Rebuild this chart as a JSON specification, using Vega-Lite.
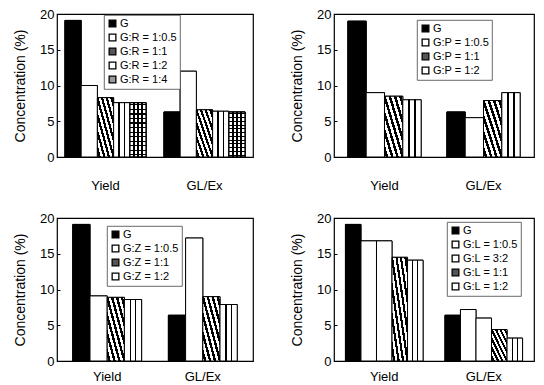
{
  "$schema": "https://vega.github.io/schema/vega-lite/v6.json",
  "padding": {"left": 12, "top": 7, "right": 0, "bottom": 0},
  "config": {
    "font": "Liberation Sans",
    "view": {"stroke": "black", "strokeWidth": 1.2},
    "axis": {"grid": false, "labelColor": "black", "titleColor": "black", "domainColor": "black", "tickColor": "black", "labelFont": "Liberation Sans", "titleFont": "Liberation Sans"},
    "axisY": {"labelFontSize": 13, "titleFontSize": 14, "titleFontWeight": "normal", "tickSize": -3, "labelPadding": 6, "titlePadding": 12, "domain": false, "labelOverlap": false},
    "axisX": {"labelFontSize": 13, "labelAngle": 0, "ticks": false, "domain": false, "title": null},
    "legend": {"orient": "none", "title": null, "symbolType": "square", "symbolSize": 45, "symbolStrokeWidth": 1.3, "symbolStrokeColor": "black", "labelFontSize": 11, "labelFont": "Liberation Sans", "labelColor": "black", "rowPadding": 1, "padding": 3, "strokeColor": "#444", "strokeWidth": 0.8, "fillColor": "white", "labelOffset": 2}
  },
  "datasets": {
    "p1": [
      {"metric": "Yield", "series": "G", "value": 19.1},
      {"metric": "Yield", "series": "G:R = 1:0.5", "value": 10.0},
      {"metric": "Yield", "series": "G:R = 1:1", "value": 8.3},
      {"metric": "Yield", "series": "G:R = 1:2", "value": 7.6},
      {"metric": "Yield", "series": "G:R = 1:4", "value": 7.6},
      {"metric": "GL/Ex", "series": "G", "value": 6.3},
      {"metric": "GL/Ex", "series": "G:R = 1:0.5", "value": 12.0},
      {"metric": "GL/Ex", "series": "G:R = 1:1", "value": 6.6},
      {"metric": "GL/Ex", "series": "G:R = 1:2", "value": 6.4},
      {"metric": "GL/Ex", "series": "G:R = 1:4", "value": 6.3}
    ],
    "p2": [
      {"metric": "Yield", "series": "G", "value": 19.0},
      {"metric": "Yield", "series": "G:P = 1:0.5", "value": 9.0},
      {"metric": "Yield", "series": "G:P = 1:1", "value": 8.5},
      {"metric": "Yield", "series": "G:P = 1:2", "value": 8.0},
      {"metric": "GL/Ex", "series": "G", "value": 6.3},
      {"metric": "GL/Ex", "series": "G:P = 1:0.5", "value": 5.5},
      {"metric": "GL/Ex", "series": "G:P = 1:1", "value": 7.9},
      {"metric": "GL/Ex", "series": "G:P = 1:2", "value": 9.0}
    ],
    "p3": [
      {"metric": "Yield", "series": "G", "value": 19.1},
      {"metric": "Yield", "series": "G:Z = 1:0.5", "value": 9.1},
      {"metric": "Yield", "series": "G:Z = 1:1", "value": 8.9},
      {"metric": "Yield", "series": "G:Z = 1:2", "value": 8.6},
      {"metric": "GL/Ex", "series": "G", "value": 6.4},
      {"metric": "GL/Ex", "series": "G:Z = 1:0.5", "value": 17.2},
      {"metric": "GL/Ex", "series": "G:Z = 1:1", "value": 9.0},
      {"metric": "GL/Ex", "series": "G:Z = 1:2", "value": 7.9}
    ],
    "p4": [
      {"metric": "Yield", "series": "G", "value": 19.1},
      {"metric": "Yield", "series": "G:L = 1:0.5", "value": 16.8},
      {"metric": "Yield", "series": "G:L = 3:2", "value": 16.8},
      {"metric": "Yield", "series": "G:L = 1:1", "value": 14.5},
      {"metric": "Yield", "series": "G:L = 1:2", "value": 14.1},
      {"metric": "GL/Ex", "series": "G", "value": 6.4},
      {"metric": "GL/Ex", "series": "G:L = 1:0.5", "value": 7.2},
      {"metric": "GL/Ex", "series": "G:L = 3:2", "value": 6.0},
      {"metric": "GL/Ex", "series": "G:L = 1:1", "value": 4.4},
      {"metric": "GL/Ex", "series": "G:L = 1:2", "value": 3.2}
    ]
  },
  "columns": 2,
  "spacing": {"column": 35, "row": 18},
  "resolve": {"scale": {"fill": "independent", "x": "independent", "xOffset": "independent"}, "legend": {"fill": "independent"}},
  "concat": [
    {
      "width": 196, "height": 143,
      "data": {"name": "p1"},
      "encoding": {
        "x": {"field": "metric", "type": "nominal", "scale": {"domain": ["Yield", "GL/Ex"], "paddingInner": 0.18, "paddingOuter": 0.08}, "axis": {"labelPadding": 22}},
        "xOffset": {"field": "series", "type": "nominal", "scale": {"domain": ["G", "G:R = 1:0.5", "G:R = 1:1", "G:R = 1:2", "G:R = 1:4"], "paddingInner": 0, "paddingOuter": 0}},
        "y": {"field": "value", "type": "quantitative", "scale": {"domain": [0, 20], "nice": false}, "axis": {"values": [0, 5, 10, 15, 20], "title": "Concentration (%)"}}
      },
      "layer": [
        {
          "mark": {"type": "bar", "stroke": "black", "strokeWidth": 1},
          "encoding": {
            "fill": {"field": "series", "type": "nominal",
              "scale": {"domain": ["G", "G:R = 1:0.5", "G:R = 1:1", "G:R = 1:2", "G:R = 1:4"], "range": ["black", "white", "#555", "white", "#999"]},
              "legend": {"legendX": 47, "legendY": 1}}
          }
        },
        {
          "mark": {"type": "bar", "stroke": "black", "strokeWidth": 1},
          "encoding": {
            "fill": {"condition": [
              {"test": "datum.series == 'G'", "value": "black"},
              {"test": "indexof(datum.series, '1:1') >= 0", "value": {"gradient": "linear", "x1": 0, "y1": 1, "x2": 1, "y2": 0, "stops": [{"offset": 0, "color": "white"}, {"offset": 0.036, "color": "white"}, {"offset": 0.036, "color": "black"}, {"offset": 0.106, "color": "black"}, {"offset": 0.106, "color": "white"}, {"offset": 0.179, "color": "white"}, {"offset": 0.179, "color": "black"}, {"offset": 0.249, "color": "black"}, {"offset": 0.249, "color": "white"}, {"offset": 0.322, "color": "white"}, {"offset": 0.322, "color": "black"}, {"offset": 0.392, "color": "black"}, {"offset": 0.392, "color": "white"}, {"offset": 0.465, "color": "white"}, {"offset": 0.465, "color": "black"}, {"offset": 0.535, "color": "black"}, {"offset": 0.535, "color": "white"}, {"offset": 0.608, "color": "white"}, {"offset": 0.608, "color": "black"}, {"offset": 0.678, "color": "black"}, {"offset": 0.678, "color": "white"}, {"offset": 0.751, "color": "white"}, {"offset": 0.751, "color": "black"}, {"offset": 0.821, "color": "black"}, {"offset": 0.821, "color": "white"}, {"offset": 0.894, "color": "white"}, {"offset": 0.894, "color": "black"}, {"offset": 0.964, "color": "black"}, {"offset": 0.964, "color": "white"}, {"offset": 1, "color": "white"}]}},
              {"test": "indexof(datum.series, '1:2') >= 0", "value": {"gradient": "linear", "x1": 0, "y1": 0, "x2": 1, "y2": 0, "stops": [{"offset": 0, "color": "white"}, {"offset": 0.3, "color": "white"}, {"offset": 0.3, "color": "black"}, {"offset": 0.38, "color": "black"}, {"offset": 0.38, "color": "white"}, {"offset": 0.62, "color": "white"}, {"offset": 0.62, "color": "black"}, {"offset": 0.7, "color": "black"}, {"offset": 0.7, "color": "white"}, {"offset": 1, "color": "white"}]}},
              {"test": "indexof(datum.series, '1:4') >= 0", "value": {"gradient": "linear", "x1": 0, "y1": 0, "x2": 1, "y2": 0, "stops": [{"offset": 0, "color": "white"}, {"offset": 0.22, "color": "white"}, {"offset": 0.22, "color": "black"}, {"offset": 0.3, "color": "black"}, {"offset": 0.3, "color": "white"}, {"offset": 0.46, "color": "white"}, {"offset": 0.46, "color": "black"}, {"offset": 0.54, "color": "black"}, {"offset": 0.54, "color": "white"}, {"offset": 0.7, "color": "white"}, {"offset": 0.7, "color": "black"}, {"offset": 0.78, "color": "black"}, {"offset": 0.78, "color": "white"}, {"offset": 1, "color": "white"}]}}
            ], "value": "white"}
          }
        },
        {
          "transform": [{"filter": "datum.series == 'G:R = 1:4'"}],
          "mark": {"type": "bar", "stroke": "black", "strokeWidth": 1,
            "fill": {"gradient": "linear", "x1": 0, "y1": 0, "x2": 0, "y2": 1, "stops": [{"offset": 0, "color": "rgba(0,0,0,0)"}, {"offset": 0.031, "color": "rgba(0,0,0,0)"}, {"offset": 0.031, "color": "black"}, {"offset": 0.052, "color": "black"}, {"offset": 0.052, "color": "rgba(0,0,0,0)"}, {"offset": 0.114, "color": "rgba(0,0,0,0)"}, {"offset": 0.114, "color": "black"}, {"offset": 0.135, "color": "black"}, {"offset": 0.135, "color": "rgba(0,0,0,0)"}, {"offset": 0.198, "color": "rgba(0,0,0,0)"}, {"offset": 0.198, "color": "black"}, {"offset": 0.219, "color": "black"}, {"offset": 0.219, "color": "rgba(0,0,0,0)"}, {"offset": 0.281, "color": "rgba(0,0,0,0)"}, {"offset": 0.281, "color": "black"}, {"offset": 0.302, "color": "black"}, {"offset": 0.302, "color": "rgba(0,0,0,0)"}, {"offset": 0.364, "color": "rgba(0,0,0,0)"}, {"offset": 0.364, "color": "black"}, {"offset": 0.385, "color": "black"}, {"offset": 0.385, "color": "rgba(0,0,0,0)"}, {"offset": 0.448, "color": "rgba(0,0,0,0)"}, {"offset": 0.448, "color": "black"}, {"offset": 0.469, "color": "black"}, {"offset": 0.469, "color": "rgba(0,0,0,0)"}, {"offset": 0.531, "color": "rgba(0,0,0,0)"}, {"offset": 0.531, "color": "black"}, {"offset": 0.552, "color": "black"}, {"offset": 0.552, "color": "rgba(0,0,0,0)"}, {"offset": 0.614, "color": "rgba(0,0,0,0)"}, {"offset": 0.614, "color": "black"}, {"offset": 0.635, "color": "black"}, {"offset": 0.635, "color": "rgba(0,0,0,0)"}, {"offset": 0.698, "color": "rgba(0,0,0,0)"}, {"offset": 0.698, "color": "black"}, {"offset": 0.719, "color": "black"}, {"offset": 0.719, "color": "rgba(0,0,0,0)"}, {"offset": 0.781, "color": "rgba(0,0,0,0)"}, {"offset": 0.781, "color": "black"}, {"offset": 0.802, "color": "black"}, {"offset": 0.802, "color": "rgba(0,0,0,0)"}, {"offset": 0.864, "color": "rgba(0,0,0,0)"}, {"offset": 0.864, "color": "black"}, {"offset": 0.885, "color": "black"}, {"offset": 0.885, "color": "rgba(0,0,0,0)"}, {"offset": 0.948, "color": "rgba(0,0,0,0)"}, {"offset": 0.948, "color": "black"}, {"offset": 0.969, "color": "black"}, {"offset": 0.969, "color": "rgba(0,0,0,0)"}, {"offset": 1, "color": "rgba(0,0,0,0)"}]}},
          "encoding": {}
        }
      ]
    },
    {
      "width": 200, "height": 143,
      "data": {"name": "p2"},
      "encoding": {
        "x": {"field": "metric", "type": "nominal", "scale": {"domain": ["Yield", "GL/Ex"], "paddingInner": 0.26, "paddingOuter": 0.14}, "axis": {"labelPadding": 22}},
        "xOffset": {"field": "series", "type": "nominal", "scale": {"domain": ["G", "G:P = 1:0.5", "G:P = 1:1", "G:P = 1:2"], "paddingInner": 0, "paddingOuter": 0}},
        "y": {"field": "value", "type": "quantitative", "scale": {"domain": [0, 20], "nice": false}, "axis": {"values": [0, 5, 10, 15, 20], "title": "Concentration (%)"}}
      },
      "layer": [
        {
          "mark": {"type": "bar", "stroke": "black", "strokeWidth": 1},
          "encoding": {
            "fill": {"field": "series", "type": "nominal",
              "scale": {"domain": ["G", "G:P = 1:0.5", "G:P = 1:1", "G:P = 1:2"], "range": ["black", "white", "#555", "white"]},
              "legend": {"legendX": 83, "legendY": 6}}
          }
        },
        {
          "mark": {"type": "bar", "stroke": "black", "strokeWidth": 1},
          "encoding": {
            "fill": {"condition": [
              {"test": "datum.series == 'G'", "value": "black"},
              {"test": "indexof(datum.series, '1:1') >= 0", "value": {"gradient": "linear", "x1": 0, "y1": 1, "x2": 1, "y2": 0, "stops": [{"offset": 0, "color": "white"}, {"offset": 0.036, "color": "white"}, {"offset": 0.036, "color": "black"}, {"offset": 0.106, "color": "black"}, {"offset": 0.106, "color": "white"}, {"offset": 0.179, "color": "white"}, {"offset": 0.179, "color": "black"}, {"offset": 0.249, "color": "black"}, {"offset": 0.249, "color": "white"}, {"offset": 0.322, "color": "white"}, {"offset": 0.322, "color": "black"}, {"offset": 0.392, "color": "black"}, {"offset": 0.392, "color": "white"}, {"offset": 0.465, "color": "white"}, {"offset": 0.465, "color": "black"}, {"offset": 0.535, "color": "black"}, {"offset": 0.535, "color": "white"}, {"offset": 0.608, "color": "white"}, {"offset": 0.608, "color": "black"}, {"offset": 0.678, "color": "black"}, {"offset": 0.678, "color": "white"}, {"offset": 0.751, "color": "white"}, {"offset": 0.751, "color": "black"}, {"offset": 0.821, "color": "black"}, {"offset": 0.821, "color": "white"}, {"offset": 0.894, "color": "white"}, {"offset": 0.894, "color": "black"}, {"offset": 0.964, "color": "black"}, {"offset": 0.964, "color": "white"}, {"offset": 1, "color": "white"}]}},
              {"test": "indexof(datum.series, '1:2') >= 0", "value": {"gradient": "linear", "x1": 0, "y1": 0, "x2": 1, "y2": 0, "stops": [{"offset": 0, "color": "white"}, {"offset": 0.3, "color": "white"}, {"offset": 0.3, "color": "black"}, {"offset": 0.38, "color": "black"}, {"offset": 0.38, "color": "white"}, {"offset": 0.62, "color": "white"}, {"offset": 0.62, "color": "black"}, {"offset": 0.7, "color": "black"}, {"offset": 0.7, "color": "white"}, {"offset": 1, "color": "white"}]}}
            ], "value": "white"}
          }
        }
      ]
    },
    {
      "width": 196, "height": 143,
      "data": {"name": "p3"},
      "encoding": {
        "x": {"field": "metric", "type": "nominal", "scale": {"domain": ["Yield", "GL/Ex"], "paddingInner": 0.28, "paddingOuter": 0.165}, "axis": {"labelPadding": 9}},
        "xOffset": {"field": "series", "type": "nominal", "scale": {"domain": ["G", "G:Z = 1:0.5", "G:Z = 1:1", "G:Z = 1:2"], "paddingInner": 0, "paddingOuter": 0}},
        "y": {"field": "value", "type": "quantitative", "scale": {"domain": [0, 20], "nice": false}, "axis": {"values": [0, 5, 10, 15, 20], "title": "Concentration (%)"}}
      },
      "layer": [
        {
          "mark": {"type": "bar", "stroke": "black", "strokeWidth": 1},
          "encoding": {
            "fill": {"field": "series", "type": "nominal",
              "scale": {"domain": ["G", "G:Z = 1:0.5", "G:Z = 1:1", "G:Z = 1:2"], "range": ["black", "white", "#555", "white"]},
              "legend": {"legendX": 50, "legendY": 8}}
          }
        },
        {
          "mark": {"type": "bar", "stroke": "black", "strokeWidth": 1},
          "encoding": {
            "fill": {"condition": [
              {"test": "datum.series == 'G'", "value": "black"},
              {"test": "indexof(datum.series, '1:1') >= 0", "value": {"gradient": "linear", "x1": 0, "y1": 1, "x2": 1, "y2": 0, "stops": [{"offset": 0, "color": "white"}, {"offset": 0.036, "color": "white"}, {"offset": 0.036, "color": "black"}, {"offset": 0.106, "color": "black"}, {"offset": 0.106, "color": "white"}, {"offset": 0.179, "color": "white"}, {"offset": 0.179, "color": "black"}, {"offset": 0.249, "color": "black"}, {"offset": 0.249, "color": "white"}, {"offset": 0.322, "color": "white"}, {"offset": 0.322, "color": "black"}, {"offset": 0.392, "color": "black"}, {"offset": 0.392, "color": "white"}, {"offset": 0.465, "color": "white"}, {"offset": 0.465, "color": "black"}, {"offset": 0.535, "color": "black"}, {"offset": 0.535, "color": "white"}, {"offset": 0.608, "color": "white"}, {"offset": 0.608, "color": "black"}, {"offset": 0.678, "color": "black"}, {"offset": 0.678, "color": "white"}, {"offset": 0.751, "color": "white"}, {"offset": 0.751, "color": "black"}, {"offset": 0.821, "color": "black"}, {"offset": 0.821, "color": "white"}, {"offset": 0.894, "color": "white"}, {"offset": 0.894, "color": "black"}, {"offset": 0.964, "color": "black"}, {"offset": 0.964, "color": "white"}, {"offset": 1, "color": "white"}]}},
              {"test": "indexof(datum.series, '1:2') >= 0", "value": {"gradient": "linear", "x1": 0, "y1": 0, "x2": 1, "y2": 0, "stops": [{"offset": 0, "color": "white"}, {"offset": 0.3, "color": "white"}, {"offset": 0.3, "color": "black"}, {"offset": 0.38, "color": "black"}, {"offset": 0.38, "color": "white"}, {"offset": 0.62, "color": "white"}, {"offset": 0.62, "color": "black"}, {"offset": 0.7, "color": "black"}, {"offset": 0.7, "color": "white"}, {"offset": 1, "color": "white"}]}}
            ], "value": "white"}
          }
        }
      ]
    },
    {
      "width": 200, "height": 143,
      "data": {"name": "p4"},
      "encoding": {
        "x": {"field": "metric", "type": "nominal", "scale": {"domain": ["Yield", "GL/Ex"], "paddingInner": 0.22, "paddingOuter": 0.115}, "axis": {"labelPadding": 9}},
        "xOffset": {"field": "series", "type": "nominal", "scale": {"domain": ["G", "G:L = 1:0.5", "G:L = 3:2", "G:L = 1:1", "G:L = 1:2"], "paddingInner": 0, "paddingOuter": 0}},
        "y": {"field": "value", "type": "quantitative", "scale": {"domain": [0, 20], "nice": false}, "axis": {"values": [0, 5, 10, 15, 20], "title": "Concentration (%)"}}
      },
      "layer": [
        {
          "mark": {"type": "bar", "stroke": "black", "strokeWidth": 1},
          "encoding": {
            "fill": {"field": "series", "type": "nominal",
              "scale": {"domain": ["G", "G:L = 1:0.5", "G:L = 3:2", "G:L = 1:1", "G:L = 1:2"], "range": ["black", "white", "white", "#555", "white"]},
              "legend": {"legendX": 113, "legendY": 4}}
          }
        },
        {
          "mark": {"type": "bar", "stroke": "black", "strokeWidth": 1},
          "encoding": {
            "fill": {"condition": [
              {"test": "datum.series == 'G'", "value": "black"},
              {"test": "indexof(datum.series, '1:1') >= 0", "value": {"gradient": "linear", "x1": 0, "y1": 1, "x2": 1, "y2": 0, "stops": [{"offset": 0, "color": "white"}, {"offset": 0.036, "color": "white"}, {"offset": 0.036, "color": "black"}, {"offset": 0.106, "color": "black"}, {"offset": 0.106, "color": "white"}, {"offset": 0.179, "color": "white"}, {"offset": 0.179, "color": "black"}, {"offset": 0.249, "color": "black"}, {"offset": 0.249, "color": "white"}, {"offset": 0.322, "color": "white"}, {"offset": 0.322, "color": "black"}, {"offset": 0.392, "color": "black"}, {"offset": 0.392, "color": "white"}, {"offset": 0.465, "color": "white"}, {"offset": 0.465, "color": "black"}, {"offset": 0.535, "color": "black"}, {"offset": 0.535, "color": "white"}, {"offset": 0.608, "color": "white"}, {"offset": 0.608, "color": "black"}, {"offset": 0.678, "color": "black"}, {"offset": 0.678, "color": "white"}, {"offset": 0.751, "color": "white"}, {"offset": 0.751, "color": "black"}, {"offset": 0.821, "color": "black"}, {"offset": 0.821, "color": "white"}, {"offset": 0.894, "color": "white"}, {"offset": 0.894, "color": "black"}, {"offset": 0.964, "color": "black"}, {"offset": 0.964, "color": "white"}, {"offset": 1, "color": "white"}]}},
              {"test": "indexof(datum.series, '1:2') >= 0", "value": {"gradient": "linear", "x1": 0, "y1": 0, "x2": 1, "y2": 0, "stops": [{"offset": 0, "color": "white"}, {"offset": 0.3, "color": "white"}, {"offset": 0.3, "color": "black"}, {"offset": 0.38, "color": "black"}, {"offset": 0.38, "color": "white"}, {"offset": 0.62, "color": "white"}, {"offset": 0.62, "color": "black"}, {"offset": 0.7, "color": "black"}, {"offset": 0.7, "color": "white"}, {"offset": 1, "color": "white"}]}}
            ], "value": "white"}
          }
        }
      ]
    }
  ]
}
